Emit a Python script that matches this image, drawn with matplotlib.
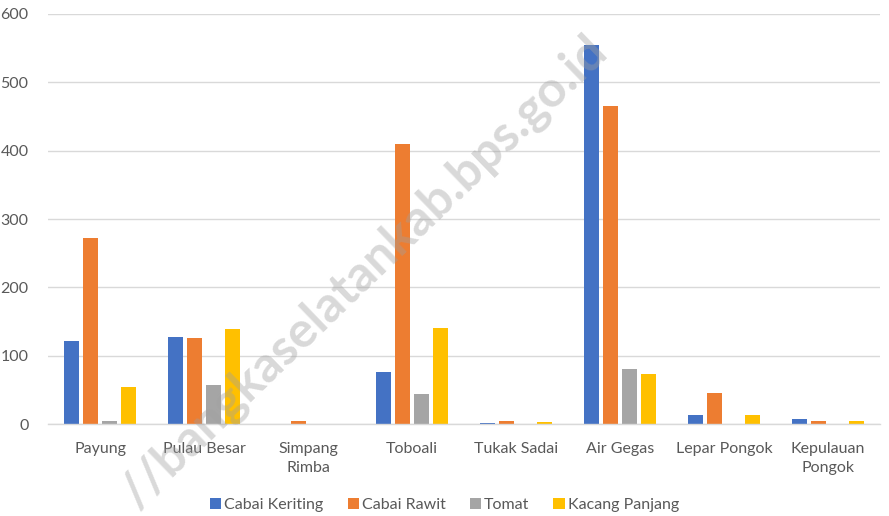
import matplotlib
matplotlib.use("Agg")
import matplotlib.pyplot as plt
import numpy as np

categories = ["Payung", "Pulau Besar", "Simpang\nRimba", "Toboali", "Tukak Sadai",
              "Air Gegas", "Lepar Pongok", "Kepulauan\nPongok"]
series_names = ["Cabai Keriting", "Cabai Rawit", "Tomat", "Kacang Panjang"]
cabai_keriting = [122, 127, 0, 77, 1, 555, 14, 7]
cabai_rawit = [272, 126, 4, 410, 5, 465, 45, 5]
tomat = [5, 57, 0, 44, 0, 80, 0, 0]
kacang_panjang = [55, 139, 0, 141, 3, 73, 14, 4]
yticks = [0, 100, 200, 300, 400, 500, 600]

colors = ["#4472C4", "#ED7D31", "#A5A5A5", "#FFC000"]
values = [cabai_keriting, cabai_rawit, tomat, kacang_panjang]

plt.rcParams['font.family'] = ['Lato', 'DejaVu Sans']
fig = plt.figure(figsize=(8.89, 5.16), dpi=100)
ax = fig.add_axes([0.054, 0.178, 0.936, 0.795])

x = np.arange(len(categories))
w = 0.15
step = 0.183
for i, (name, vals, c) in enumerate(zip(series_names, values, colors)):
    ax.bar(x + (i - 1.5) * step, vals, width=w, color=c, label=name, zorder=3)

ax.set_xlim(-0.5, len(categories) - 0.5)
ax.set_ylim(0, 600)
ax.set_yticks(yticks)
ax.set_yticklabels([str(v) for v in yticks])
ax.set_xticks(x)
ax.set_xticklabels(categories, linespacing=1.45)
ax.tick_params(axis='both', length=0, labelsize=11.5, colors='#595959')
ax.tick_params(axis='x', pad=13)
ax.tick_params(axis='y', pad=14)
ax.grid(axis='y', color='#D9D9D9', linewidth=1, zorder=0)
for s in ['top', 'right', 'left']:
    ax.spines[s].set_visible(False)
ax.spines['bottom'].set_color('#D9D9D9')
ax.spines['bottom'].set_linewidth(1)
ax.spines['bottom'].set_zorder(4)

leg = fig.legend(loc='center', bbox_to_anchor=(0.5, 0.022), ncol=4, frameon=False,
                 fontsize=11.5, handlelength=0.7, handleheight=0.7, handletextpad=0.2,
                 columnspacing=1.5, labelcolor='#595959')

fig.text(0.675, 0.915, "//bangkaselatankab.bps.go.id", rotation=44,
         rotation_mode='anchor', fontsize=36, fontweight='bold', color='#A0A0A0',
         alpha=0.4, ha='right', va='center', zorder=10)

fig.savefig("out.png", dpi=100)
